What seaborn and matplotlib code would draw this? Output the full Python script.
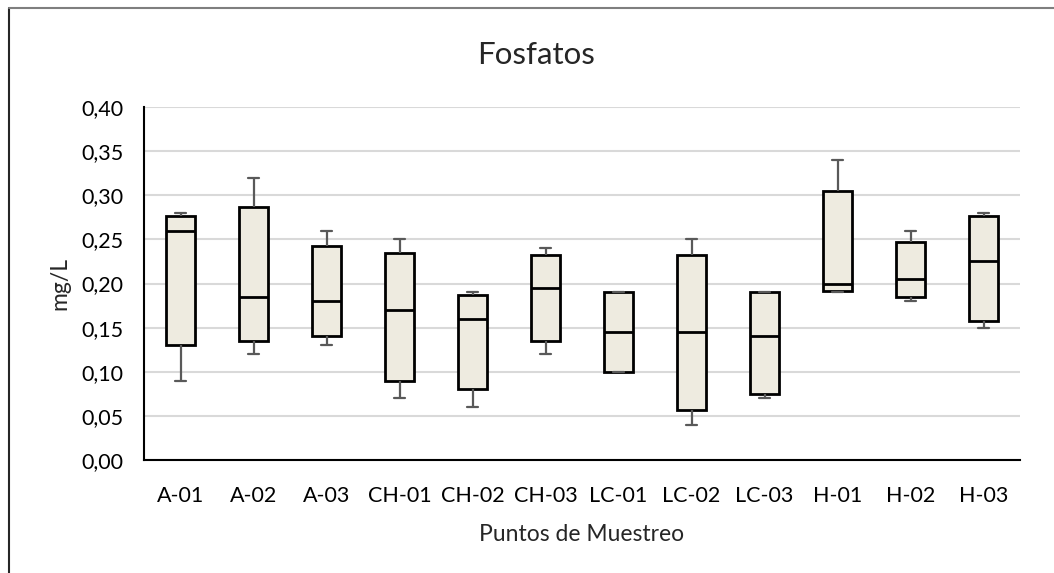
import numpy as np
import pandas as pd
import matplotlib.pyplot as plt
import seaborn as sns
from matplotlib.ticker import FuncFormatter
from matplotlib.lines import Line2D

# %% data (five-number summary per sampling point)
puntos = ["A-01", "A-02", "A-03", "CH-01", "CH-02", "CH-03",
          "LC-01", "LC-02", "LC-03", "H-01", "H-02", "H-03"]
minimo = [0.09, 0.12, 0.13, 0.07, 0.06, 0.12, 0.10, 0.04, 0.07, 0.19, 0.18, 0.15]
q1 = [0.13, 0.135, 0.14, 0.09, 0.08, 0.135, 0.10, 0.057, 0.075, 0.192, 0.185, 0.157]
mediana = [0.26, 0.185, 0.18, 0.17, 0.16, 0.195, 0.145, 0.145, 0.14, 0.20, 0.205, 0.225]
q3 = [0.277, 0.287, 0.242, 0.234, 0.187, 0.232, 0.19, 0.232, 0.19, 0.305, 0.247, 0.277]
maximo = [0.28, 0.32, 0.26, 0.25, 0.19, 0.24, 0.19, 0.25, 0.19, 0.34, 0.26, 0.28]

rows = []
for i, p in enumerate(puntos):
    for v in (minimo[i], q1[i], mediana[i], q3[i], maximo[i]):
        rows.append({"punto": p, "valor": v})
df = pd.DataFrame(rows)

# %%
sns.set_style("white")
plt.rcParams["font.family"] = ["Lato", "DejaVu Sans"]

fig = plt.figure(figsize=(10.54, 5.73), dpi=100)
ax = fig.add_axes([144 / 1054, 1 - 460 / 573, (1020 - 144) / 1054, (460 - 107) / 573])

sns.boxplot(
    data=df,
    x="punto",
    y="valor",
    order=puntos,
    whis=(0, 100),
    width=0.4,
    color="#EEEBE0",
    saturation=1,
    linecolor="black",
    linewidth=2,
    showfliers=False,
    capwidths=0.16,
    whiskerprops=dict(color="#595959", linewidth=1.6),
    capprops=dict(color="#595959", linewidth=1.6),
    medianprops=dict(color="black", linewidth=2),
    ax=ax,
)

ax.set_ylim(0, 0.40)
ax.set_yticks(np.arange(0, 0.401, 0.05))
ax.yaxis.set_major_formatter(FuncFormatter(lambda v, _: f"{v:.2f}".replace(".", ",")))
ax.yaxis.grid(True, color="#D9D9D9", linewidth=1.5)
ax.set_axisbelow(True)
ax.tick_params(length=0, labelsize=15.5, colors="black")
ax.tick_params(axis="y", pad=14.5)
ax.tick_params(axis="x", pad=19)
for s in ["top", "right"]:
    ax.spines[s].set_visible(False)
for s in ["left", "bottom"]:
    ax.spines[s].set_color("black")
    ax.spines[s].set_linewidth(1.5)

ax.set_xlabel("Puntos de Muestreo", fontsize=16.5, labelpad=13)
ax.set_ylabel("mg/L", fontsize=16.5, labelpad=8)
fig.text(536 / 1054, 1 - 55 / 573, "Fosfatos", ha="center", va="center", fontsize=22.5)

# chart area border
fig.add_artist(Line2D([9 / 1054, 9 / 1054], [0, 1 - 8 / 573], color="#262626", lw=1.5,
                      transform=fig.transFigure))
fig.add_artist(Line2D([9 / 1054, 1], [1 - 8 / 573, 1 - 8 / 573], color="#7f7f7f", lw=1.5,
                      transform=fig.transFigure))

fig.savefig("out.png", dpi=100)
